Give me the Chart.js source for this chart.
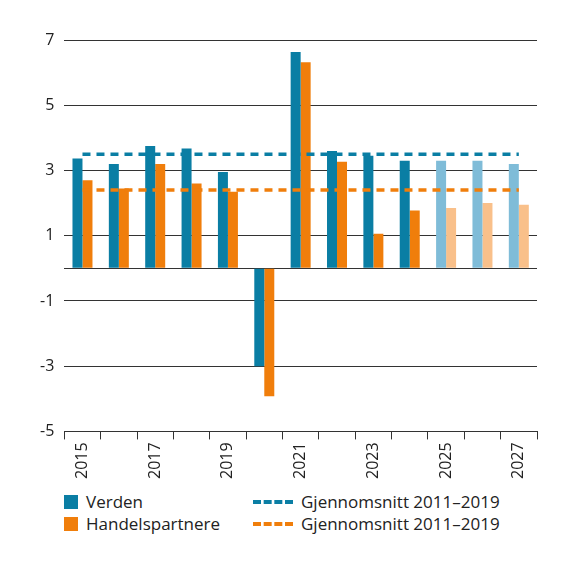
<!DOCTYPE html>
<html><head><meta charset="utf-8">
<script src="https://cdn.jsdelivr.net/npm/chart.js@4"></script>
<style>
body{margin:0;background:#fff;font-family:"Open Sans",sans-serif;}
#wrap{position:absolute;left:0;top:0;width:575px;height:482px;}
.leg{position:absolute;font-size:17px;color:#222;display:flex;align-items:center;}
.sw{width:14px;height:14px;margin-right:8px;display:inline-block}
.dl{width:40px;border-top:4px dashed;margin-right:8px;display:inline-block}
</style></head><body>
<div id="wrap"><canvas id="c"></canvas></div>
<div class="leg" style="left:64px;top:490px"><span class="sw" style="background:#0a7ea4"></span>Verden</div>
<div class="leg" style="left:64px;top:512px"><span class="sw" style="background:#f07e0b"></span>Handelspartnere</div>
<div class="leg" style="left:253px;top:490px"><span class="dl" style="border-color:#0a7ea4"></span>Gjennomsnitt 2011–2019</div>
<div class="leg" style="left:253px;top:512px"><span class="dl" style="border-color:#f07e0b"></span>Gjennomsnitt 2011–2019</div>
<script>
const years=['2015','2016','2017','2018','2019','2020','2021','2022','2023','2024','2025','2026','2027'];
const verden=[3.37,3.2,3.75,3.67,2.95,-3.0,6.63,3.6,3.45,3.3,3.3,3.3,3.2];
const handel=[2.7,2.45,3.2,2.6,2.35,-3.92,6.32,3.27,1.06,1.77,1.85,2.0,1.95];
const avgVerden=3.5, avgHandel=2.4;
const forecastFrom=10;
const blue='#0a7ea4',lblue='#7fbcd8',orange='#f07e0b',lorange='#f9c08a';
new Chart(document.getElementById('c'),{
data:{labels:years,datasets:[
{type:'line',data:years.map(()=>avgVerden),borderColor:blue,borderWidth:3.5,borderDash:[8,6],pointRadius:0,order:0},
{type:'line',data:years.map(()=>avgHandel),borderColor:orange,borderWidth:3.5,borderDash:[8,6],pointRadius:0,order:0},
{type:'bar',data:verden,backgroundColor:verden.map((v,i)=>i>=forecastFrom?lblue:blue),categoryPercentage:0.55,barPercentage:1,order:1},
{type:'bar',data:handel,backgroundColor:handel.map((v,i)=>i>=forecastFrom?lorange:orange),categoryPercentage:0.55,barPercentage:1,order:1}
]},
options:{responsive:true,maintainAspectRatio:false,animation:false,
layout:{padding:{left:30,right:38,top:40}},
plugins:{legend:{display:false},tooltip:{enabled:false}},
scales:{
x:{offset:true,grid:{display:true,drawOnChartArea:false,tickLength:8,color:'#333',offset:true},border:{color:'#333'},
 ticks:{maxRotation:90,minRotation:90,autoSkip:false,color:'#222',font:{size:16,family:'Open Sans'},callback:(v,i)=>i%2===0?years[i]:''}},
y:{min:-5,max:7,afterBuildTicks:s=>{s.ticks=[-5,-3,-1,0,1,3,5,7].map(v=>({value:v}));},
 grid:{color:'#333',lineWidth:1,drawTicks:false},border:{display:false},
 ticks:{padding:10,color:'#222',font:{size:16,family:'Open Sans'},callback:v=>v===0?'':String(v)}}
}}});
</script></body></html>
